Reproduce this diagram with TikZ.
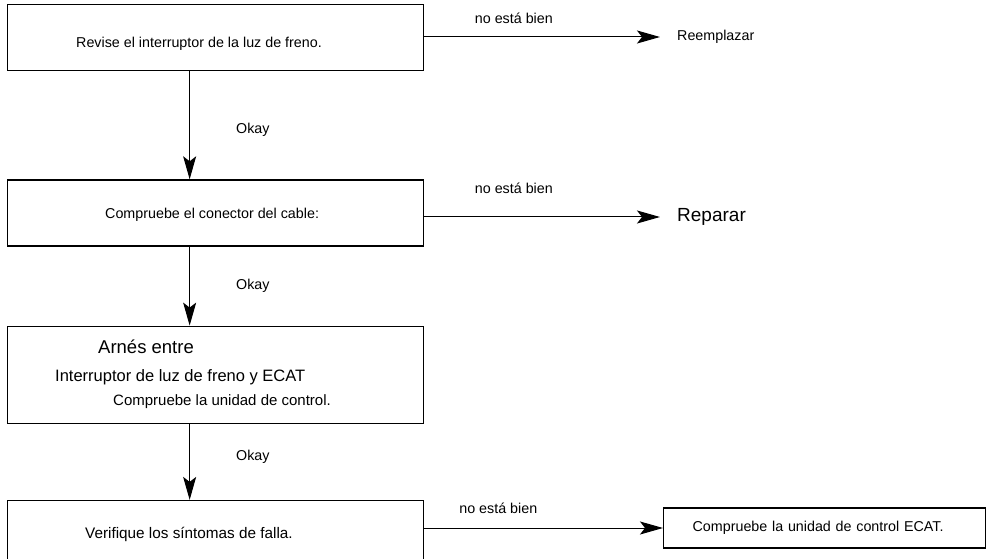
\documentclass[tikz,border=0pt]{standalone}
\usepackage{fontspec}
\setmainfont{Liberation Sans}
\usetikzlibrary{arrows.meta,positioning}

\begin{document}
\begin{tikzpicture}[x=1pt, y=1pt, >={Stealth[length=23pt,width=13pt,inset=5pt]},
    every node/.style={font=\fontsize{14.3}{16}\selectfont, inner sep=0pt},
    box/.style={draw, line width=1.3pt, rectangle, minimum width=416pt},
    txt/.style={anchor=west},
    flow/.style={->, line width=1pt}]
        \useasboundingbox (0,0) rectangle (989,-559);

        % Check boxes down the left
        \node [box, minimum height=66pt, anchor=north west] (revise) at (7,-4) {};
        \node [box, minimum height=66pt, below=108pt of revise] (cable) {};
        \node [box, minimum height=97pt, below=79pt of cable] (harness) {};
        \node [box, minimum height=80pt, below=76pt of harness] (symptoms) {};

        % Box texts
        \node [txt] (revisetxt) at ([xshift=69pt, yshift=-6pt]revise.west) {Revise el interruptor de la luz de freno.};
        \node [txt] (cabletxt) at ([xshift=98pt, yshift=-2pt]cable.west) {Compruebe el conector del cable:};
        \node [txt, font=\fontsize{18.5}{20}\selectfont] (arnes) at ([xshift=91pt, yshift=28pt]harness.west) {Arnés entre};
        \node [txt, font=\fontsize{16.5}{18}\selectfont] (interruptor) at ([xshift=48pt, yshift=-2pt]harness.west) {Interruptor de luz de freno y ECAT};
        \node [txt, font=\fontsize{15}{17}\selectfont] (unidad) at ([xshift=106pt, yshift=-27pt]harness.west) {Compruebe la unidad de control.};
        \node [txt, font=\fontsize{15.3}{17}\selectfont] (symptomstxt) at ([xshift=78pt, yshift=6pt]symptoms.west) {Verifique los síntomas de falla.};

        % Outcomes on the right
        \node [anchor=west, inner xsep=17pt] (replace) at (660,-37) {Reemplazar};
        \node [anchor=west, inner xsep=17pt, font=\fontsize{19}{21}\selectfont] (repair) at (660,-217) {Reparar};
        \node [draw, line width=1.3pt, anchor=west, minimum height=40pt, text width=264pt, inner xsep=29pt, align=left] (ecat) at (663,-528) {Compruebe la unidad de control ECAT.};

        % Paths
        \draw [flow] ([xshift=-26pt]revise.south) -- node [pos=0.54, right=46pt] {Okay} ([xshift=-26pt]cable.north);
        \draw [flow] ([xshift=-26pt]cable.south) -- node [pos=0.5, right=46pt] {Okay} ([xshift=-26pt]harness.north);
        \draw [flow] ([xshift=-26pt]harness.south) -- node [pos=0.43, right=46pt] {Okay} ([xshift=-26pt]symptoms.north);
        \draw [flow] (revise.east |- replace.west) -- node [pos=0.38, above=13pt] {no está bien} (replace.west);
        \draw [flow] (cable.east |- repair.west) -- node [pos=0.38, above=23pt] {no está bien} (repair.west);
        \draw [flow] (symptoms.east |- ecat.west) -- node [pos=0.31, above=14pt] {no está bien} (ecat.west);
    \end{tikzpicture}
\end{document}
